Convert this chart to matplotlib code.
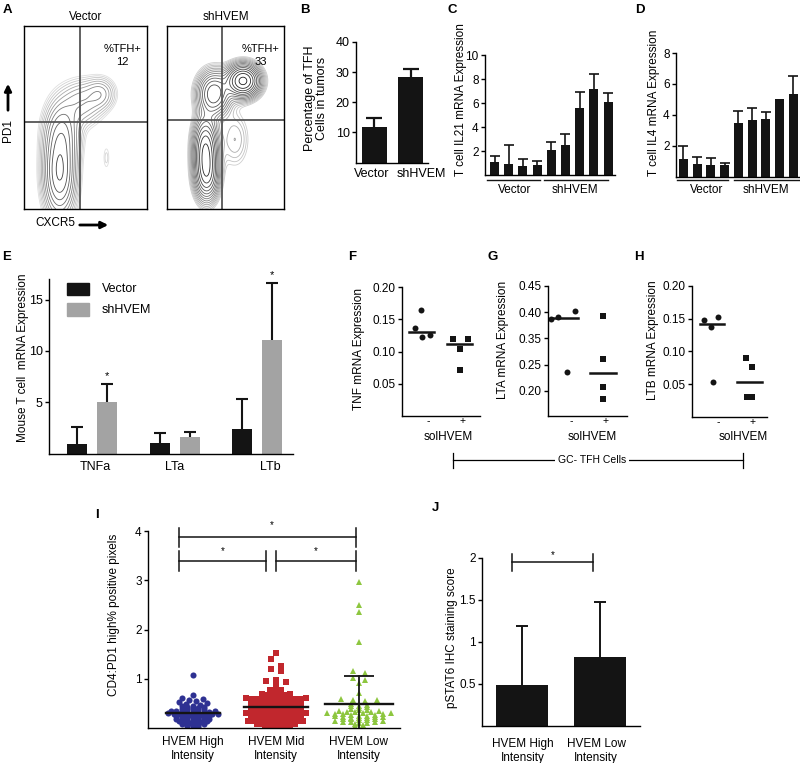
import numpy as np
import matplotlib
matplotlib.use("Agg")
import matplotlib.pyplot as plt
from matplotlib.lines import Line2D
from matplotlib.patches import Rectangle, FancyArrowPatch
from matplotlib.transforms import blended_transform_factory

plt.rcParams["font.family"] = ["Liberation Sans", "DejaVu Sans"]
plt.rcParams["font.size"] = 8.5

# ---- A: flow plots, density blobs (centre x, centre y, spread x, spread y, weight) in gate fractions
vec_cx = [0.29, 0.31, 0.47, 0.62, 0.67]
vec_cy = [0.20, 0.42, 0.58, 0.63, 0.28]
vec_sx = [0.07, 0.08, 0.10, 0.07, 0.02]
vec_sy = [0.13, 0.10, 0.07, 0.05, 0.05]
vec_w = [1.0, 0.45, 0.25, 0.22, 0.05]
shv_cx = [0.65, 0.40, 0.33, 0.34, 0.58]
shv_cy = [0.70, 0.63, 0.33, 0.18, 0.38]
shv_sx = [0.08, 0.08, 0.06, 0.06, 0.08]
shv_sy = [0.05, 0.07, 0.10, 0.08, 0.10]
shv_w = [1.0, 0.55, 0.7, 0.5, 0.08]
tfh_pct = ["12", "33"]

# ---- B
b_groups = ["Vector", "shHVEM"]
b_mean = [11.7, 28.3]
b_err = [3.0, 2.7]

# ---- C / D (4 vector replicates, then shHVEM)
c_mean = [1.06, 0.9, 0.75, 0.8, 2.08, 2.5, 5.55, 7.2, 6.06]
c_err = [0.52, 1.6, 0.58, 0.4, 0.7, 0.9, 1.4, 1.2, 0.74]
d_mean = [1.13, 0.83, 0.74, 0.76, 3.48, 3.65, 3.76, 5.0, 5.37]
d_err = [0.87, 0.47, 0.46, 0.11, 0.76, 0.81, 0.41, 0.0, 1.15]

# ---- E
e_genes = ["TNFa", "LTa", "LTb"]
e_vec = [0.93, 1.0, 2.35]
e_vec_err = [1.67, 1.0, 2.95]
e_sh = [5.0, 1.65, 11.1]
e_sh_err = [1.8, 0.45, 5.5]
e_star = [True, False, True]

# ---- F, G, H (solHVEM - / +)
f_minus = [0.136, 0.165, 0.122, 0.126]
f_plus = [0.119, 0.119, 0.104, 0.071]
g_minus = [0.388, 0.390, 0.403, 0.235]
g_plus = [0.393, 0.261, 0.208, 0.185]
h_minus = [0.148, 0.137, 0.152, 0.054]
h_plus = [0.090, 0.077, 0.030, 0.030]

# ---- I
blue_high = [0.02, 0.03, 0.04, 0.06, 0.07, 0.08, 0.09, 0.09,
             0.11, 0.11, 0.12, 0.13, 0.14, 0.14, 0.16, 0.16, 0.17, 0.18, 0.18, 0.19, 0.19,
             0.21, 0.21, 0.22, 0.22, 0.23, 0.24, 0.24, 0.25, 0.26, 0.26, 0.27, 0.27, 0.28,
             0.28, 0.29, 0.29, 0.30, 0.31, 0.31, 0.32, 0.32, 0.33, 0.33, 0.34, 0.35, 0.35,
             0.36, 0.37, 0.38, 0.38, 0.39, 0.40, 0.41, 0.42, 0.43, 0.44, 0.45,
             0.46, 0.48, 0.50, 0.52, 0.55, 0.57, 0.59, 0.60, 0.67, 1.07]
red_mid = [0.01, 0.02, 0.03, 0.03, 0.04, 0.05, 0.05, 0.06, 0.07, 0.07, 0.08, 0.09, 0.09, 0.10,
           0.11, 0.11, 0.12, 0.12, 0.13, 0.13, 0.14, 0.14, 0.15, 0.15,
           0.16, 0.16, 0.17, 0.17, 0.18, 0.18, 0.19, 0.19, 0.20, 0.20,
           0.21, 0.21, 0.22, 0.22, 0.23, 0.23, 0.24, 0.24, 0.25, 0.25,
           0.26, 0.26, 0.27, 0.27, 0.28, 0.28, 0.29, 0.29, 0.30, 0.30,
           0.31, 0.31, 0.32, 0.32, 0.33, 0.33, 0.34, 0.34, 0.35, 0.35,
           0.36, 0.36, 0.37, 0.37, 0.38, 0.38, 0.39, 0.39, 0.40, 0.40,
           0.41, 0.41, 0.42, 0.42, 0.43, 0.43, 0.44, 0.44, 0.45, 0.45,
           0.46, 0.46, 0.47, 0.47, 0.48, 0.48, 0.49, 0.49, 0.50, 0.50,
           0.51, 0.51, 0.52, 0.52, 0.53, 0.53, 0.54, 0.54, 0.55, 0.55,
           0.56, 0.56, 0.57, 0.57, 0.58, 0.58, 0.59, 0.59, 0.60, 0.60,
           0.61, 0.61, 0.62, 0.63, 0.63, 0.64, 0.65, 0.66, 0.67, 0.68, 0.69, 0.70,
           0.71, 0.72, 0.74, 0.75, 0.77, 0.78,
           0.85, 0.93, 0.95, 0.97, 1.15, 1.20, 1.25, 1.40, 1.52]
green_low = [0.02, 0.04, 0.06, 0.08, 0.10, 0.11, 0.12, 0.12, 0.13, 0.14, 0.15,
             0.16, 0.17, 0.18, 0.18, 0.19, 0.20, 0.20, 0.21, 0.22, 0.23, 0.23, 0.24,
             0.25, 0.25, 0.26, 0.27, 0.28, 0.28, 0.29, 0.30, 0.30, 0.31, 0.32, 0.33,
             0.33, 0.34, 0.35, 0.36, 0.37, 0.38, 0.40, 0.42, 0.44, 0.45, 0.47, 0.49,
             0.55, 0.57, 0.57, 0.58, 0.72, 0.92, 0.97, 1.02, 1.11, 1.16,
             1.75, 2.36, 2.49, 2.97]
i_groups = ["HVEM High\nIntensity", "HVEM Mid\nIntensity", "HVEM Low\nIntensity"]

# ---- J
j_groups = ["HVEM High\nIntensity", "HVEM Low\nIntensity"]
j_mean = [0.478, 0.82]
j_err = [0.71, 0.65]

W, H = 800, 763
fig = plt.figure(figsize=(W / 100, H / 100), dpi=100)
K = "#141414"


def box(x0, y0, x1, y1):
    return fig.add_axes([x0 / W, 1 - y1 / H, (x1 - x0) / W, (y1 - y0) / H])


def ftext(x, y, s, **kw):
    kw.setdefault("ha", "center")
    kw.setdefault("va", "center")
    fig.text(x / W, 1 - y / H, s, **kw)


def prism(ax, size=8.5):
    for s in ["top", "right"]:
        ax.spines[s].set_visible(False)
    for s in ["left", "bottom"]:
        ax.spines[s].set_linewidth(1.0)
    ax.tick_params(direction="out", length=3, width=1.0, labelsize=size, pad=1.5)
    ax.tick_params(axis="x", length=0)


def whisk(ax, xs, tops, errs, cap, lw=1.2):
    for x, t, e in zip(xs, tops, errs):
        if e <= 0:
            continue
        ax.plot([x, x], [t, t + e], color=K, lw=lw, solid_capstyle="butt", zorder=1)
        ax.plot([x], [t + e], marker="_", ms=cap, mew=lw, color=K, zorder=1)


def density(cx, cy, sx, sy, w, gx, gy):
    z = np.zeros_like(gx)
    for a, b, c, d, e in zip(cx, cy, sx, sy, w):
        z += e * np.exp(-0.5 * (((gx - a) / c) ** 2 + ((gy - b) / d) ** 2))
    return z


def rows_layout(vals, row_h, step, cut, sparse_h, sparse_step):
    # Prism-style scatter: values grouped into rows, spread outwards from the centre
    vals = np.asarray(vals)
    xs = np.zeros(len(vals))
    rows = np.where(vals < cut, np.floor(vals / row_h), 1000 + np.floor((vals - cut) / sparse_h))
    for r in np.unique(rows):
        idx = np.where(rows == r)[0]
        idx = idx[np.argsort(vals[idx])]
        n = len(idx)
        st = step if r < 1000 else sparse_step
        for j, i in enumerate(idx):
            if n % 2:
                xs[i] = (1 if j % 2 else -1) * ((j + 1) // 2) * st
            else:
                xs[i] = (1 if j % 2 == 0 else -1) * (j // 2 + 0.5) * st
    return xs


letter = dict(fontweight="bold", fontsize=9.5)

# ================= A
gx, gy = np.meshgrid(np.linspace(0, 1, 300), np.linspace(0, 1, 300))
a_panels = [
    (24, 147, "Vector", (vec_cx, vec_cy, vec_sx, vec_sy, vec_w), (0.455, 0.475), tfh_pct[0], (0.22, 0.8), 12),
    (167, 284, "shHVEM", (shv_cx, shv_cy, shv_sx, shv_sy, shv_w), (0.47, 0.486), tfh_pct[1], (0.3, 0.9), 15),
]
for x0, x1, title, blobs, quad, pct, shade, nlev in a_panels:
    ax = box(x0, 26, x1, 209)
    z = density(*blobs, gx, gy)
    levels = z.max() * np.geomspace(0.03, 0.92, nlev)
    cols = plt.cm.Greys(np.linspace(shade[0], shade[1], nlev))
    ax.contour(gx, gy, z, levels=levels, colors=cols, linewidths=0.6)
    ax.axvline(quad[0], color="#555555", lw=1.3)
    ax.axhline(quad[1], color="#555555", lw=1.3)
    ax.set_xlim(0, 1)
    ax.set_ylim(0, 1)
    ax.set_xticks([])
    ax.set_yticks([])
    for s in ax.spines.values():
        s.set_linewidth(1.0)
    ax.set_title(title, fontsize=8.5, pad=4)
    ax.text(0.8, 0.84, "%TFH+\n" + pct, transform=ax.transAxes, ha="center", va="center",
            fontsize=8, linespacing=1.35)
ftext(7, 10, "A", **letter)
ftext(8, 131, "PD1", rotation=90)
fig.add_artist(FancyArrowPatch((8 / W, 1 - 113 / H), (8 / W, 1 - 81 / H), transform=fig.transFigure,
                               arrowstyle="-|>", mutation_scale=10, lw=2, color="k"))
ftext(55, 223, "CXCR5")
fig.add_artist(FancyArrowPatch((77 / W, 1 - 225 / H), (111 / W, 1 - 225 / H), transform=fig.transFigure,
                               arrowstyle="-|>", mutation_scale=10, lw=2, color="k"))

# ================= B
ax = box(356, 42, 428, 162.5)
prism(ax, 9)
ax.bar([0, 1], b_mean, width=0.685, color=K)
whisk(ax, [0, 1], b_mean, b_err, 11, lw=1.6)
ax.set_xlim(-0.507, 1.47)
ax.set_ylim(0, 40)
ax.set_yticks([10, 20, 30, 40])
ax.set_xticks([-0.08, 1.3], b_groups)
ax.tick_params(axis="x", pad=4)
ftext(305, 10, "B", **letter)
ftext(316, 98, "Percentage of TFH\nCells in tumors", rotation=90, linespacing=1.1, fontsize=9)


def replicate_panel(ax, means, errs, step, xl, yl, lines, labx, lines_y):
    prism(ax)
    xs = np.arange(len(means))
    ax.bar(xs, means, width=9 / step, color=K)
    whisk(ax, xs, means, errs, 6.5, lw=1.2)
    ax.set_xlim(*xl)
    ax.set_ylim(*yl)
    ax.set_xticks([])
    tr = blended_transform_factory(ax.transData, ax.transAxes)
    for (a, b), lab, lx in zip(lines, ["Vector", "shHVEM"], labx):
        ax.plot([a, b], [lines_y[0], lines_y[0]], color=K, lw=1.0, transform=tr, clip_on=False)
        ax.text(lx, lines_y[1], lab, transform=tr, ha="center", va="center", fontsize=8.5)


# ================= C
ax = box(485, 55, 615, 175)
replicate_panel(ax, c_mean, c_err, 14.2, (-0.67, 8.49), (0, 10),
                [(-0.53, 3.2), (3.49, 8.0)], [1.44, 5.7], (-0.042, -0.125))
ax.set_yticks([2, 4, 6, 8, 10])
ftext(452, 10, "C", **letter)
ftext(461, 100, "T cell IL21 mRNA Expression", rotation=90)

# ================= D
ax = box(676, 53, 800, 176.7)
replicate_panel(ax, d_mean, d_err, 13.7, (-0.547, 8.5), (0, 8),
                [(-0.47, 3.25), (3.69, 8.5)], [1.7, 5.98], (-0.027, -0.107))
ax.set_yticks([2, 4, 6, 8])
ftext(640, 10, "D", **letter)
ftext(654, 103, "T cell IL4 mRNA Expression", rotation=90)

# ================= E
ax = box(49, 279, 293, 453.6)
prism(ax, 9)
xs = np.arange(3)
ax.bar(xs - 0.181, e_vec, width=0.242, color=K)
ax.bar(xs + 0.181, e_sh, width=0.242, color="#a3a3a3")
whisk(ax, xs - 0.181, e_vec, e_vec_err, 8, lw=1.5)
whisk(ax, xs + 0.181, e_sh, e_sh_err, 8, lw=1.5)
for x, t, e, s in zip(xs, e_sh, e_sh_err, e_star):
    if s:
        ax.text(x + 0.181, t + e + 0.3, "*", ha="center", va="bottom", fontsize=8)
ax.set_xlim(-0.52, 2.43)
ax.set_ylim(0, 17)
ax.set_yticks([5, 10, 15])
ax.set_xticks([0.036, 1.0, 2.15], e_genes)
ax.tick_params(axis="x", pad=5.5)
ax.add_patch(Rectangle((0.074, 0.908), 0.09, 0.069, transform=ax.transAxes, color=K))
ax.add_patch(Rectangle((0.074, 0.788), 0.09, 0.074, transform=ax.transAxes, color="#a3a3a3"))
ax.text(0.217, 0.943, "Vector", transform=ax.transAxes, va="center", fontsize=9)
ax.text(0.217, 0.825, "shHVEM", transform=ax.transAxes, va="center", fontsize=9)
ftext(7, 257, "E", **letter)
ftext(23, 358, "Mouse T cell  mRNA Expression", rotation=90)


# ================= F, G, H
def g_disp(v):
    return v if v >= 0.30 else v + 0.05


fgh = [
    ("F", 352, (402, 287, 480, 416), (0.474, 2.53), 38.0, f_minus, f_plus,
     [-7, -1, 0, 8], [-7, 8, 0, 0], (0, 0.2), [0.05, 0.10, 0.15, 0.20],
     ["0.05", "0.10", "0.15", "0.20"], "TNF mRNA Expression", 359, 349, 448, None),
    ("G", 493, (548, 286, 627, 416), (0.553, 2.632), 38.0, g_minus, g_plus,
     [-14, -7, 10, 2], [0, 0, 0, 0], (0.202, 0.45), [0.25, 0.30, 0.35, 0.40, 0.45],
     ["0.20", "0.25", "0.35", "0.40", "0.45"], "LTA mRNA Expression", 503, 340, 592, g_disp),
    ("H", 639, (692, 286, 767, 417), (0.467, 2.467), 37.5, h_minus, h_plus,
     [-8, -1, 6, 1], [-3, 3, -2.5, 3], (0, 0.2), [0.05, 0.10, 0.15, 0.20],
     ["0.05", "0.10", "0.15", "0.20"], "LTB mRNA Expression", 653, 340, 743, None),
]
for (lab, lx, bx, xl, ppx, minus, plus, dm, dp, yl, yt, ytl, ylab, ylx, yly, solx, fn) in fgh:
    ax = box(*bx)
    prism(ax)
    conv = fn if fn else (lambda v: v)
    for k, (vals, offs, mk) in enumerate([(minus, dm, "o"), (plus, dp, "s")]):
        xpos = [k + 1 + o / ppx for o in offs]
        ax.plot(xpos, [conv(v) for v in vals], ls="none", marker=mk, ms=4.3, color=K, mew=0)
        med = conv(float(np.median(vals)))
        ax.plot([k + 1 - 0.33, k + 1 + 0.33], [med, med], color=K, lw=1.8)
    ax.set_xlim(*xl)
    ax.set_ylim(*yl)
    ax.set_yticks(yt, ytl)
    ax.set_xticks([1.17, 2.07], ["-", "+"])
    ax.tick_params(axis="x", pad=0, labelsize=7.5)
    ftext(lx, 257, lab, **letter)
    ftext(ylx, yly, ylab, rotation=90)
    ftext(solx, 437, "solHVEM")

fig.add_artist(Line2D([453 / W, 743 / W], [1 - 460 / H] * 2, transform=fig.transFigure, color="k", lw=0.9))
fig.add_artist(Line2D([453 / W] * 2, [1 - 452.5 / H, 1 - 467.5 / H], transform=fig.transFigure, color="k", lw=0.9))
fig.add_artist(Line2D([743 / W] * 2, [1 - 452.5 / H, 1 - 467.5 / H], transform=fig.transFigure, color="k", lw=0.9))
ftext(592, 460, "GC- TFH Cells", fontsize=7.5,
      bbox=dict(facecolor="white", edgecolor="none", pad=2))

# ================= I
ax = box(148, 531, 400, 728)
prism(ax)
ax.set_xlim(0.458, 3.494)
ax.set_ylim(0, 4)
# marker, colour, size, row step (px), mean-line half width, sparse cut, sparse row height, sparse step (px)
i_style = [("o", "#2e3192", 4.4, 5.5, 0.33, 0.45, 0.08, 7),
           ("s", "#c1272d", 3.8, 5.5, 0.39, 0.80, 0.15, 10),
           ("^", "#8dc63f", 5.0, 8.0, 0.41, 0.50, 0.15, 12)]
for k, (vals, (mk, col, ms, step, hw, cut, sh, sst)) in enumerate(zip([blue_high, red_mid, green_low], i_style)):
    v = np.array(vals)
    dx = rows_layout(v, 0.05, step, cut, sh, sst) / 83.0
    ax.plot(k + 1 + dx, v, ls="none", marker=mk, ms=ms, color=col, mew=0, zorder=2)
    m = v.mean()
    if k == 2:
        sd = v.std(ddof=1)
        ax.plot([k + 1, k + 1], [0, m + sd], color=K, lw=1.3, zorder=3)
        ax.plot([k + 1], [m + sd], marker="_", ms=21, mew=1.3, color=K, zorder=3)
    ax.plot([k + 1 - hw, k + 1 + hw], [m, m], color=K, lw=1.7, zorder=4)
for a, b, y in [(0.83, 2.96, 3.87), (0.83, 1.88, 3.39), (2.0, 2.96, 3.39)]:
    ax.plot([a, b], [y, y], color=K, lw=1.1, clip_on=False)
    ax.plot([a, a], [y - 0.2, y + 0.2], color=K, lw=1.1, clip_on=False)
    ax.plot([b, b], [y - 0.2, y + 0.2], color=K, lw=1.1, clip_on=False)
for x, y in [(1.95, 4.12), (1.36, 3.6), (2.48, 3.6)]:
    ax.text(x, y, "*", ha="center", va="center", fontsize=7)
ax.set_yticks([1, 2, 3, 4])
ax.set_xticks([1, 2, 3], i_groups)
ax.tick_params(axis="x", pad=6)
ftext(97, 515, "I", **letter)
ftext(114, 615, "CD4:PD1 high% positive pixels", rotation=90)

# ================= J
ax = box(482, 558, 640, 725.5)
prism(ax)
ax.bar([0, 1], j_mean, width=0.667, color=K)
whisk(ax, [0, 1], j_mean, j_err, 9, lw=1.4)
ax.set_xlim(-0.51, 1.51)
ax.set_ylim(0, 2)
ax.set_yticks([0.5, 1, 1.5, 2], ["0.5", "1", "1.5", "2"])
ax.set_xticks([0.01, 0.95], j_groups)
ax.tick_params(axis="x", pad=9)
ax.plot([-0.128, 0.91], [1.95, 1.95], color=K, lw=1.1, clip_on=False)
ax.plot([-0.128, -0.128], [1.85, 2.05], color=K, lw=1.1, clip_on=False)
ax.plot([0.91, 0.91], [1.85, 2.05], color=K, lw=1.1, clip_on=False)
ax.text(0.39, 2.04, "*", ha="center", va="center", fontsize=7)
ftext(435, 508, "J", **letter)
ftext(452, 638, "pSTAT6 IHC staining score", rotation=90)

fig.savefig("out.png", dpi=100)
